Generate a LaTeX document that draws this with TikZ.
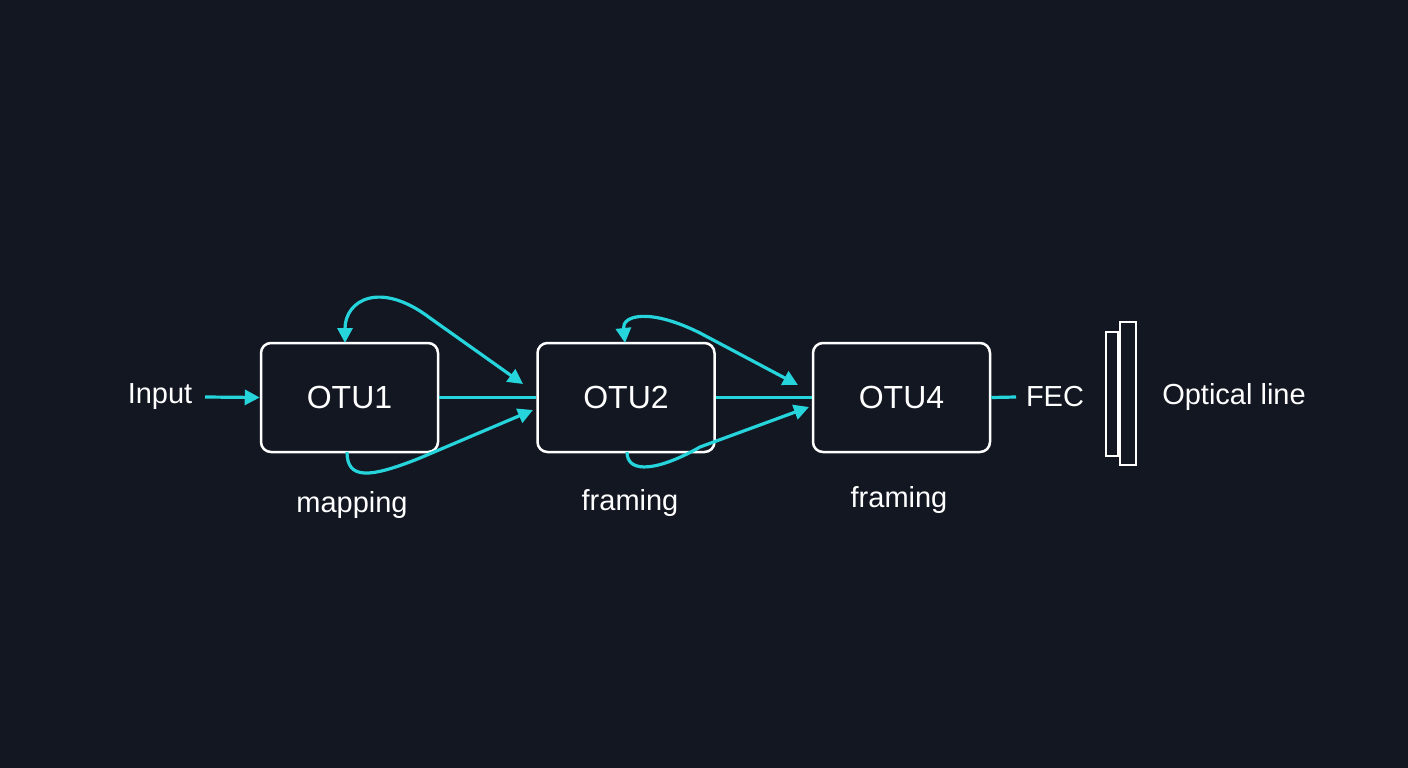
\documentclass[tikz,border=0pt]{standalone}
\usepackage{fontspec}
\setmainfont{Liberation Sans}
\usetikzlibrary{arrows.meta}
\definecolor{bg}{HTML}{131722}
\definecolor{cy}{HTML}{26D4DC}
\begin{document}
\begin{tikzpicture}[x=1pt,y=-1pt,
  box/.style={draw=white,line width=2.5pt,rounded corners=10pt,minimum width=177pt,minimum height=109pt,inner sep=0pt,text=white,font=\fontsize{32}{36}\selectfont},
  lab/.style={text=white,font=\fontsize{29}{32}\selectfont,inner sep=0pt},
  cl/.style={draw=cy,line width=3.2pt},
  ar/.style={cl,-{Triangle[length=15pt,width=15pt]}},
  bar/.style={draw=white,line width=2.5pt}]
\fill[bg] (0,0) rectangle (1408,768);
\useasboundingbox (0,0) rectangle (1408,768);
\node[box] (o1) at (349.5,397.5) {OTU1};
\node[box] (o2) at (626,397.5) {OTU2};
\node[box] (o4) at (901.5,397.5) {OTU4};
\node[lab] (in) at (160,397) {Input};
\node[lab] (fec) at (1055,397) {FEC};
\node[lab] (opt) at (1234,397) {Optical line};
\node[lab] (m1) at (352,505) {mapping};
\node[lab] (f1) at (630,503) {framing};
\node[lab] (f2) at (899,500) {framing};
\coordinate (s0) at (205,397);
\coordinate (e4) at (1016,397);
\draw[ar] (s0) -- (o1.west);
\draw[cl] (o1.east) -- (o2.west);
\draw[cl] (o2.east) -- (o4.west);
\draw[cl] (o4.east) -- (e4);
\coordinate (t1) at (523,384);
\coordinate (b1) at (533,410);
\coordinate (t2) at (798,385);
\coordinate (b2) at (809,407);
\draw[cl,{Triangle[length=15pt,width=15pt]}-{Triangle[length=15pt,width=15pt]}] (345,343) .. controls (345,300) and (380,280) .. (430,318) -- (t1);
\draw[ar] (347,452) .. controls (347,480) and (370,478) .. (420,458) -- (b1);
\draw[cl,{Triangle[length=15pt,width=15pt]}-{Triangle[length=15pt,width=15pt]}] (625,343) .. controls (622,315) and (650,308) .. (700,333) -- (t2);
\draw[ar] (627,452) .. controls (627,475) and (660,470) .. (700,447) -- (b2);
\node[bar,minimum width=12pt,minimum height=124pt,inner sep=0pt] (r1) at (1112,394) {};
\node[bar,minimum width=16pt,minimum height=143pt,inner sep=0pt] (r2) at (1128,393.5) {};
\end{tikzpicture}
\end{document}
